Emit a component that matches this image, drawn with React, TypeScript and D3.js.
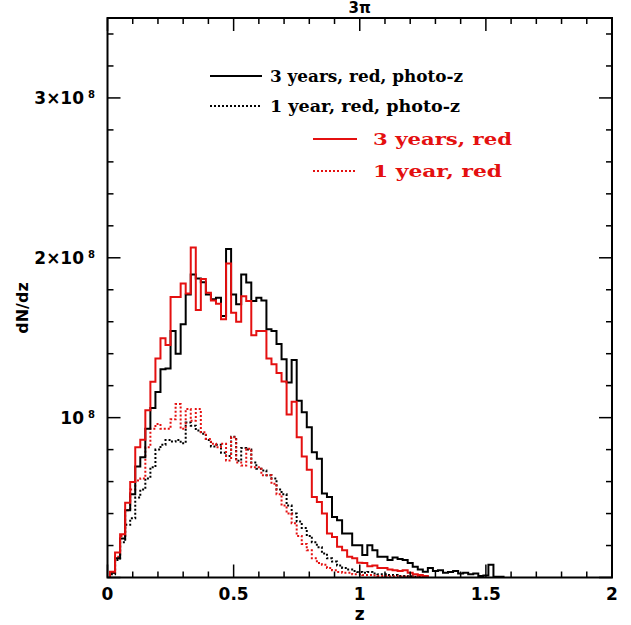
import React, { useEffect, useRef } from 'react';
import * as d3 from 'd3';

// histogram bins: lower edge of first bin and bin width in z
const zStart = 0.01;
const binWidth = 0.02;

// dN/dz in units of 1e8, one value per bin
const threeYearPhotoZ = [
  0.03, 0.12, 0.244, 0.42, 0.52, 0.695, 0.753, 0.93, 1.06, 1.16,
  1.303, 1.307, 1.542, 1.40, 1.584, 1.771, 1.895, 1.87, 1.847, 1.77,
  1.74, 1.75, 1.636, 2.055, 1.77, 1.71, 1.895, 1.845, 1.73, 1.75,
  1.733, 1.553, 1.542, 1.46, 1.366, 1.22, 1.361, 1.106, 1.033, 0.94,
  0.784, 0.743, 0.525, 0.503, 0.379, 0.358, 0.275, 0.275, 0.202, 0.202,
  0.14, 0.202, 0.171, 0.13, 0.13, 0.109, 0.125, 0.115, 0.11, 0.09,
  0.067, 0.05, 0.036, 0.06, 0.04, 0.045, 0.03, 0.035, 0.04, 0.025,
  0.03, 0.02, 0.025, 0.01, 0.012, 0.08, 0.005, 0.005,
];

const threeYearRed = [
  0.036, 0.157, 0.271, 0.468, 0.597, 0.815, 0.861, 1.046, 1.224, 1.37,
  1.497, 1.455, 1.754, 1.754, 1.839, 1.777, 2.065, 1.673, 1.868, 1.781,
  1.733, 1.712, 1.615, 1.964, 1.656, 1.60, 1.76, 1.73, 1.515, 1.542,
  1.542, 1.37, 1.334, 1.28, 1.226, 1.02, 1.10, 0.877, 0.757, 0.674,
  0.503, 0.472, 0.40, 0.275, 0.254, 0.192, 0.171, 0.13, 0.12, 0.092,
  0.09, 0.07, 0.075, 0.06, 0.06, 0.05, 0.045, 0.04, 0.045, 0.03,
  0.02, 0.015, 0.01,
];

const oneYearPhotoZ = [
  0.02, 0.11, 0.22, 0.33, 0.37, 0.50, 0.55, 0.62, 0.69, 0.80,
  0.83, 0.86, 0.85, 0.86, 0.84, 0.97, 0.95, 0.92, 0.90, 0.86,
  0.82, 0.83, 0.78, 0.76, 0.88, 0.73, 0.81, 0.80, 0.72, 0.68,
  0.67, 0.64, 0.62, 0.55, 0.52, 0.45, 0.40, 0.35, 0.31, 0.26,
  0.22, 0.19, 0.15, 0.12, 0.10, 0.075, 0.06, 0.05, 0.04, 0.035,
  0.03, 0.035, 0.025, 0.02, 0.02, 0.015, 0.015, 0.01, 0.01, 0.008,
  0.005, 0.005,
];

const oneYearRed = [
  0.03, 0.13, 0.26, 0.42, 0.55, 0.607, 0.62, 0.815, 0.93, 0.96,
  0.93, 0.93, 0.99, 1.085, 0.93, 1.054, 0.98, 1.054, 0.908, 0.867,
  0.836, 0.815, 0.836, 0.732, 0.877, 0.72, 0.70, 0.805, 0.69, 0.69,
  0.64, 0.64, 0.587, 0.52, 0.45, 0.40, 0.34, 0.26, 0.21, 0.17,
  0.12, 0.09, 0.08, 0.06, 0.045, 0.035, 0.03, 0.03, 0.02, 0.02,
  0.015, 0.015, 0.012, 0.01, 0.01, 0.008, 0.008, 0.006, 0.006, 0.005,
  0.005, 0.01, 0.005,
];

const xTicks = [0, 0.5, 1, 1.5, 2];
const xTickLabels = ['0', '0.5', '1', '1.5', '2'];
const yTicks = [1, 2, 3];
const yTickPrefix = ['', '2×', '3×'];

const legendLabels = ['3 years, red, photo-z', '1 year, red, photo-z', '3 years, red', '1 year, red'];

const RED = '#e41010';
const FONT = '"DejaVu Sans", sans-serif';

export default function App() {
  const svgRef = useRef<SVGSVGElement>(null);

  useEffect(() => {
    if (!svgRef.current) return;
    const svg = d3.select(svgRef.current);
    svg.selectAll('*').remove();

    const width = 631;
    const height = 625;
    const margin = { top: 18, right: 19, bottom: 47.5, left: 107.5 };

    const x = d3.scaleLinear().domain([0, 2]).range([margin.left, width - margin.right]);
    const y = d3.scaleLinear().domain([0, 3.5]).range([height - margin.bottom, margin.top]);

    svg.append('rect').attr('width', width).attr('height', height).attr('fill', '#fff');

    svg.append('defs').append('clipPath').attr('id', 'plot-clip')
      .append('rect')
      .attr('x', x(0)).attr('y', y(3.5))
      .attr('width', x(2) - x(0)).attr('height', y(0) - y(3.5));

    // histograms
    const line = d3.line<[number, number]>()
      .x(d => x(d[0]))
      .y(d => y(d[1]))
      .curve(d3.curveStepAfter);

    const drawHist = (vals: number[], color: string, dash: string | null) => {
      const pts: [number, number][] = [[zStart, 0]];
      vals.forEach((v, i) => pts.push([zStart + i * binWidth, v]));
      pts.push([zStart + vals.length * binWidth, 0]);
      svg.append('path')
        .attr('d', line(pts))
        .attr('fill', 'none')
        .attr('stroke', color)
        .attr('stroke-width', 2)
        .attr('stroke-dasharray', dash)
        .attr('clip-path', 'url(#plot-clip)');
    };

    drawHist(oneYearPhotoZ, '#000', '2,2');
    drawHist(oneYearRed, RED, '2,2');
    drawHist(threeYearPhotoZ, '#000', null);
    drawHist(threeYearRed, RED, null);

    // frame
    svg.append('rect')
      .attr('x', x(0)).attr('y', y(3.5))
      .attr('width', x(2) - x(0)).attr('height', y(0) - y(3.5))
      .attr('fill', 'none').attr('stroke', '#000').attr('stroke-width', 2);

    // x ticks (bottom + top, inward)
    const ticks = svg.append('g').attr('stroke', '#000').attr('stroke-width', 1.5);
    d3.range(0, 21).forEach(i => {
      const v = i / 10;
      const len = i % 5 === 0 ? 13 : 6;
      ticks.append('line').attr('x1', x(v)).attr('x2', x(v)).attr('y1', y(0)).attr('y2', y(0) - len);
      ticks.append('line').attr('x1', x(v)).attr('x2', x(v)).attr('y1', y(3.5)).attr('y2', y(3.5) + len);
    });
    // y ticks (left + right, inward)
    d3.range(0, 18).forEach(i => {
      const v = i / 5;
      const len = i % 5 === 0 ? 13 : 6;
      ticks.append('line').attr('x1', x(0)).attr('x2', x(0) + len).attr('y1', y(v)).attr('y2', y(v));
      ticks.append('line').attr('x1', x(2)).attr('x2', x(2) - len).attr('y1', y(v)).attr('y2', y(v));
    });

    // x tick labels
    svg.append('g').selectAll('text')
      .data(xTicks)
      .enter()
      .append('text')
      .attr('x', d => x(d))
      .attr('y', y(0) + 22)
      .attr('text-anchor', 'middle')
      .style('font-family', FONT)
      .style('font-weight', 'bold')
      .style('font-size', '17px')
      .text((d, i) => xTickLabels[i]);

    // y tick labels
    yTicks.forEach((v, i) => {
      const t = svg.append('text')
        .attr('x', 95)
        .attr('y', y(v) + 6)
        .attr('text-anchor', 'end')
        .style('font-family', FONT)
        .style('font-weight', 'bold')
        .style('font-size', '17px');
      t.append('tspan').text(`${yTickPrefix[i]}10`);
      t.append('tspan').attr('dx', 4).attr('dy', -6).style('font-size', '10px').text('8');
    });

    // axis titles
    svg.append('text')
      .attr('x', x(1)).attr('y', y(0) + 42)
      .attr('text-anchor', 'middle')
      .style('font-family', FONT).style('font-weight', 'bold').style('font-size', '17px')
      .text('z');

    svg.append('text')
      .attr('transform', `translate(28, 308) rotate(-90)`)
      .attr('text-anchor', 'middle')
      .style('font-family', FONT).style('font-weight', 'bold').style('font-size', '16px')
      .text('dN/dz');

    svg.append('text')
      .attr('x', x(1)).attr('y', 13)
      .attr('text-anchor', 'middle')
      .style('font-family', FONT).style('font-weight', 'bold').style('font-size', '15px')
      .text('3π');

    // legend
    const legendRows = [
      { x1: 210, x2: 262, tx: 270, y: 76, tw: 193, color: '#000', dash: null },
      { x1: 210, x2: 262, tx: 270, y: 106, tw: 190, color: '#000', dash: '2,2' },
      { x1: 313, x2: 357, tx: 373, y: 139, tw: 139, color: RED, dash: null },
      { x1: 313, x2: 357, tx: 373, y: 171, tw: 129, color: RED, dash: '2,2' },
    ];
    legendRows.forEach((r, i) => {
      svg.append('line')
        .attr('x1', r.x1).attr('x2', r.x2).attr('y1', r.y).attr('y2', r.y)
        .attr('stroke', r.color).attr('stroke-width', 2).attr('stroke-dasharray', r.dash);
      svg.append('text')
        .attr('x', r.tx).attr('y', r.y + 6)
        .attr('fill', r.color)
        .attr('textLength', r.tw)
        .attr('lengthAdjust', 'spacingAndGlyphs')
        .style('font-family', '"DejaVu Serif", serif')
        .style('font-weight', 'bold')
        .style('font-size', '16px')
        .text(legendLabels[i]);
    });
  }, []);

  return (
    <>
      <style>{'body{margin:0}'}</style>
      <svg ref={svgRef} width={631} height={625} style={{ display: 'block' }} />
    </>
  );
}
